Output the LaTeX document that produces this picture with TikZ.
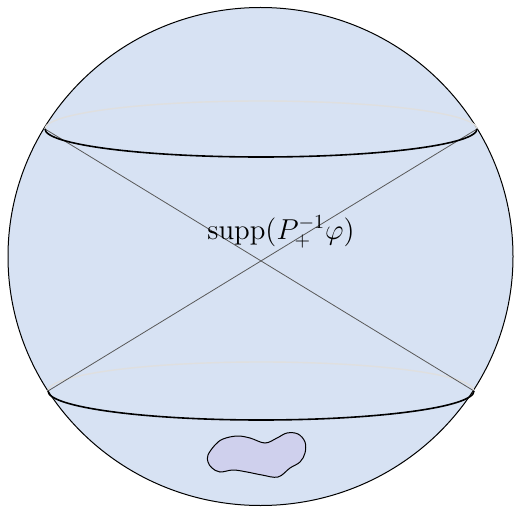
\documentclass[tikz,border=0pt]{standalone}
\definecolor{ballfill}{RGB}{215,226,243}
\definecolor{blobfill}{RGB}{207,208,237}
\begin{document}
\begin{tikzpicture}[x=0.5pt,y=-0.5pt,
  back/.style={white!75!gray,line width=0.7pt},
  front/.style={black,line width=0.8pt},
  cone/.style={gray!70!black,line width=0.4pt}]
\useasboundingbox (0,0) rectangle (514,508);
\filldraw[fill=ballfill,draw=black,line width=0.5pt] (260.5,256.5) ellipse[x radius=252.5,y radius=249];

\coordinate (tl) at (45,129);
\coordinate (tr) at (477,129);
\coordinate (bl) at (48,391);
\coordinate (br) at (474,391);

\draw[back] (tl) arc[start angle=180,end angle=360,x radius=216,y radius=28];
\draw[back] (bl) arc[start angle=180,end angle=360,x radius=213,y radius=29];

\draw[cone] (tl) -- (br);
\draw[cone] (tr) -- (bl);

\draw[front] (tl) arc[start angle=180,end angle=0,x radius=216,y radius=28];
\draw[front] (bl) arc[start angle=180,end angle=0,x radius=213,y radius=29];

\node (supp) at (281,232) {\fontsize{14.5}{17}\selectfont $\mathrm{supp}(P_+^{-1}\varphi)$};

\filldraw[fill=blobfill,draw=black,line width=0.5pt] plot[smooth cycle,tension=0.6] coordinates {
  (208,455) (215,445) (223,439) (237,436) (250,438) (265,443) (277,438) (287,433)
  (298,434) (305,442) (305,453) (300,462) (290,468) (278,477) (262,475) (247,472)
  (233,470) (220,472) (212,468) (208,462)};
\end{tikzpicture}
\end{document}
